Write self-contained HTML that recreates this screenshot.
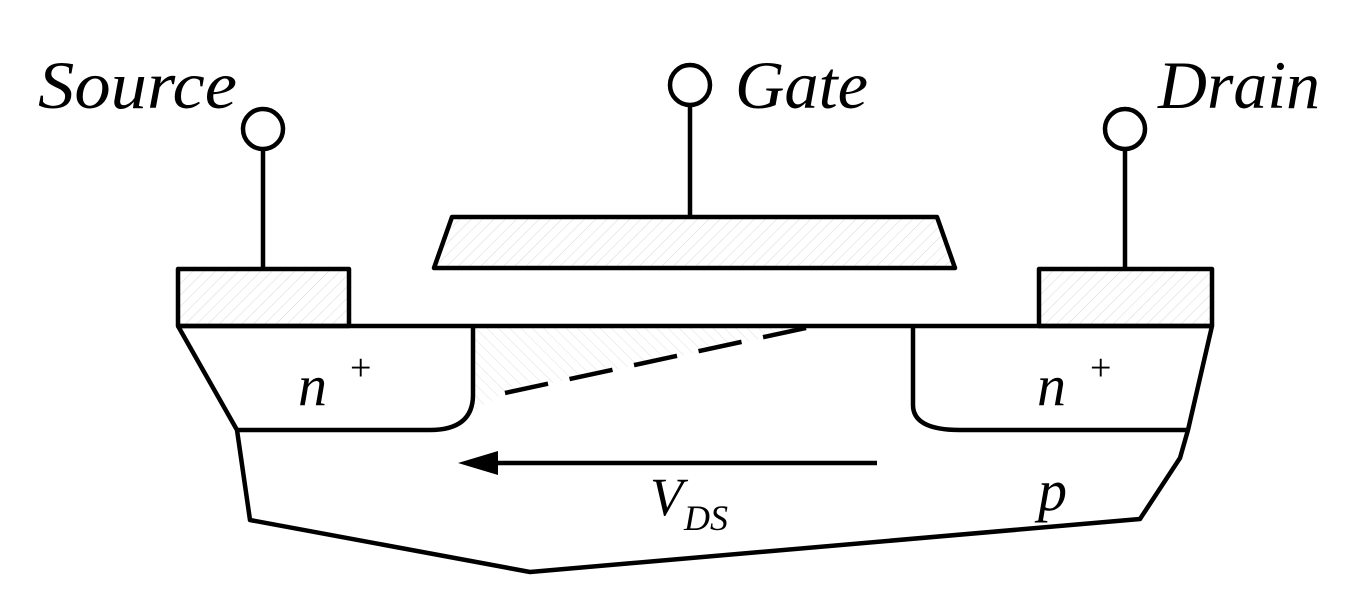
<!DOCTYPE html>
<html><head><meta charset="utf-8"><style>html,body{margin:0;padding:0;background:#fff}svg{display:block}
.t{font-family:"Liberation Serif","DejaVu Serif",serif;font-style:italic}</style></head>
<body>
<svg width="1359" height="600" viewBox="0 0 1359 600" xmlns="http://www.w3.org/2000/svg">
<defs>
<pattern id="h1" width="8" height="8" patternUnits="userSpaceOnUse" patternTransform="rotate(45)">
<line x1="0" y1="0" x2="0" y2="8" stroke="#d8d8d8" stroke-width="1"/></pattern>
<pattern id="h2" width="8" height="8" patternUnits="userSpaceOnUse" patternTransform="rotate(-45)">
<line x1="0" y1="0" x2="0" y2="8" stroke="#e0e0e0" stroke-width="1"/></pattern>
</defs>
<g fill="none" stroke="#000" stroke-width="4.5" stroke-linejoin="round">
<rect x="178" y="269" width="171" height="57" fill="url(#h1)"/>
<rect x="1039" y="269" width="173" height="57" fill="url(#h1)"/>
<polygon points="452,217 937,217 955,268 434,268" fill="url(#h1)"/>
<polygon points="475,328 810,328 505,393 475,410" fill="url(#h2)" stroke="none"/>
<line x1="178" y1="326" x2="1212" y2="326"/>
<polyline points="178,326 237,430 250,520 530,572 1140,519 1180,458 1188,430 1212,326"/>
<path d="M237,430 H430 Q473,430 473,395 V326"/>
<path d="M913,326 V405 Q913,430 960,430 H1188"/>
<line x1="505" y1="393" x2="815" y2="326" stroke-dasharray="44,22"/>
<line x1="263" y1="150" x2="263" y2="269"/>
<line x1="690" y1="104" x2="690" y2="217"/>
<line x1="1125" y1="150" x2="1125" y2="269"/>
<circle cx="263" cy="129" r="20" fill="#fff"/>
<circle cx="690" cy="85" r="20" fill="#fff"/>
<circle cx="1125" cy="129" r="20" fill="#fff"/>
<line x1="480" y1="463" x2="877" y2="463"/>
</g>
<polygon points="458,463 498,451 498,475" fill="#000"/>
<g class="t" fill="#000">
<text x="38" y="108" font-size="68" textLength="199" lengthAdjust="spacingAndGlyphs">Source</text>
<text x="735" y="108" font-size="68" textLength="133" lengthAdjust="spacingAndGlyphs">Gate</text>
<text x="1158" y="108" font-size="68" textLength="162" lengthAdjust="spacingAndGlyphs">Drain</text>
<text x="298" y="405" font-size="58">n</text>
<text x="1037" y="405" font-size="58">n</text>
<text x="350" y="380" font-size="38" style="font-style:normal">+</text>
<text x="1090" y="380" font-size="38" style="font-style:normal">+</text>
<text x="1038" y="510" font-size="58">p</text>
<text x="650" y="515" font-size="54">V</text>
<text x="684" y="530" font-size="36">DS</text>
</g>
</svg>
</body></html>
